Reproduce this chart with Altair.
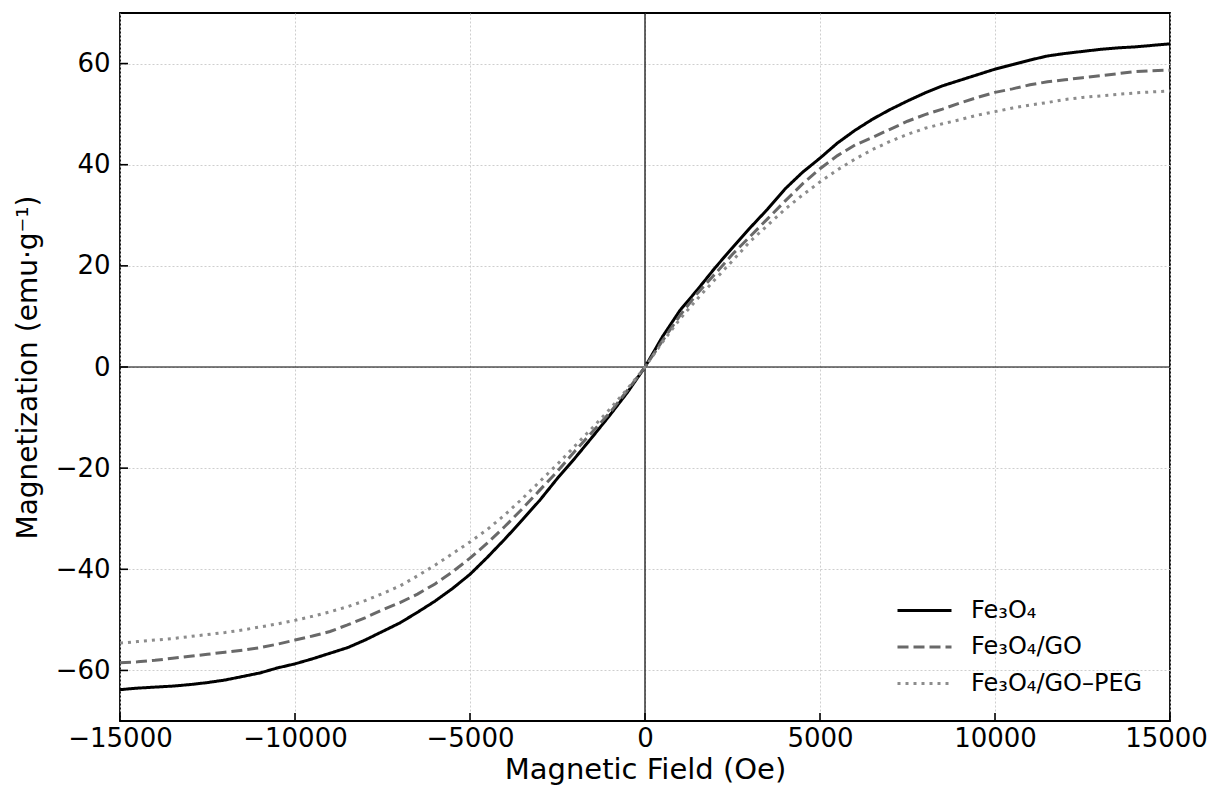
import altair as alt
import pandas as pd

field_oe = [-15000, -14500, -14000, -13500, -13000, -12500, -12000, -11500, -11000, -10500,
            -10000, -9500, -9000, -8500, -8000, -7500, -7000, -6500, -6000, -5500,
            -5000, -4500, -4000, -3500, -3000, -2500, -2000, -1500, -1000, -500,
            0, 500, 1000, 1500, 2000, 2500, 3000, 3500, 4000, 4500,
            5000, 5500, 6000, 6500, 7000, 7500, 8000, 8500, 9000, 9500,
            10000, 10500, 11000, 11500, 12000, 12500, 13000, 13500, 14000, 14500, 15000]

m_fe3o4 = [-63.8, -63.5, -63.3, -63.1, -62.8, -62.4, -61.9, -61.2, -60.5, -59.5,
           -58.7, -57.7, -56.6, -55.5, -54.0, -52.3, -50.6, -48.5, -46.3, -43.8,
           -41.0, -37.6, -34.0, -30.2, -26.3, -22.0, -18.0, -13.8, -9.5, -5.0,
           0.0, 6.0, 11.2, 15.3, 19.6, 23.6, 27.5, 31.2, 35.2, 38.5,
           41.3, 44.3, 46.8, 49.0, 50.9, 52.6, 54.2, 55.6, 56.7, 57.8,
           58.9, 59.8, 60.7, 61.5, 62.0, 62.4, 62.8, 63.1, 63.3, 63.6, 63.9]

m_fe3o4_go = [-58.5, -58.3, -58.0, -57.6, -57.2, -56.8, -56.4, -56.0, -55.5, -54.8,
              -54.0, -53.2, -52.3, -51.0, -49.6, -48.0, -46.6, -44.9, -42.9, -40.5,
              -37.8, -34.8, -31.5, -28.0, -24.3, -20.6, -16.6, -12.8, -9.0, -4.6,
              0.0, 5.2, 10.2, 14.6, 18.4, 22.3, 25.8, 29.3, 32.8, 36.2,
              39.2, 41.8, 43.9, 45.4, 47.0, 48.6, 49.9, 51.0, 52.2, 53.3,
              54.3, 55.0, 55.8, 56.4, 56.8, 57.2, 57.6, 58.0, 58.4, 58.6, 58.7]

m_fe3o4_go_peg = [-54.6, -54.3, -54.0, -53.7, -53.3, -52.9, -52.5, -52.0, -51.4, -50.8,
                  -50.1, -49.3, -48.4, -47.4, -46.2, -44.8, -43.3, -41.3, -39.2, -36.9,
                  -34.6, -32.1, -29.2, -26.0, -22.6, -19.2, -15.6, -12.0, -8.3, -4.3,
                  0.0, 4.9, 9.5, 13.5, 17.3, 21.0, 24.8, 28.0, 31.2, 34.0,
                  36.6, 39.0, 41.1, 43.0, 44.6, 46.0, 47.2, 48.1, 48.9, 49.8,
                  50.5, 51.2, 51.8, 52.3, 52.9, 53.3, 53.6, 53.9, 54.2, 54.4, 54.6]

series_names = ["Fe₃O₄", "Fe₃O₄/GO", "Fe₃O₄/GO–PEG"]
series_colors = ["#000000", "#696969", "#8c8c8c"]
series_dashes = [[1, 0], [11, 5], [3, 5]]

x_ticks = [-15000, -10000, -5000, 0, 5000, 10000, 15000]
y_ticks = [-60, -40, -20, 0, 20, 40, 60]

W, H = 1050, 708
FONT = "DejaVu Sans"

rows = []
for name, vals in zip(series_names, [m_fe3o4, m_fe3o4_go, m_fe3o4_go_peg]):
    for f, m in zip(field_oe, vals):
        rows.append({"field": f, "mag": m, "series": name, "order": series_names.index(name)})
df = pd.DataFrame(rows)

xscale = alt.Scale(domain=[-15000, 15000], nice=False, zero=False)
yscale = alt.Scale(domain=[-70, 70], nice=False, zero=False)


def make_legend():
    return alt.Legend(title=None, orient="none", legendX=785, legendY=578,
                      symbolType="M-1.5,0H1.5", symbolSize=1296, symbolStrokeWidth=3,
                      symbolFillColor="transparent",
                      labelFontSize=24, labelFont=FONT, labelColor="black", labelLimit=0,
                      rowPadding=4.5, labelOffset=27, padding=0)


lines = alt.Chart(df).mark_line(strokeWidth=3, strokeCap="butt").encode(
    x=alt.X("field:Q", scale=xscale,
            axis=alt.Axis(values=x_ticks, title="Magnetic Field (Oe)", format="d",
                          grid=True, gridDash=[2, 2], gridColor="#c8c8c8", gridWidth=0.9,
                          ticks=False, domain=False, labelPadding=4, labelFontSize=26,
                          titleFontSize=29, titlePadding=4, titleFontWeight="normal",
                          labelColor="black", titleColor="black", labelFont=FONT, titleFont=FONT,
                          labelFlush=False,
                          labelOffset={"condition": {"test": "datum.value == 15000", "value": -4},
                                       "value": 0})),
    y=alt.Y("mag:Q", scale=yscale,
            axis=alt.Axis(values=y_ticks, title="Magnetization (emu·g⁻¹)", format="d",
                          grid=True, gridDash=[2, 2], gridColor="#c8c8c8", gridWidth=0.9,
                          ticks=False, domain=False, labelPadding=10, labelFontSize=26,
                          titleFontSize=28, titlePadding=13, titleFontWeight="normal",
                          labelColor="black", titleColor="black", labelFont=FONT, titleFont=FONT)),
    color=alt.Color("series:N", scale=alt.Scale(domain=series_names, range=series_colors),
                    legend=make_legend()),
    strokeDash=alt.StrokeDash("series:N", scale=alt.Scale(domain=series_names, range=series_dashes),
                              legend=make_legend()),
    order=alt.Order("order:Q"),
    detail="series:N",
)

zero_x = alt.Chart(pd.DataFrame({"v": [0]})).mark_rule(color="black", strokeWidth=1.2).encode(
    x=alt.X("v:Q", scale=xscale))
zero_y = alt.Chart(pd.DataFrame({"v": [0]})).mark_rule(color="black", strokeWidth=1.2).encode(
    y=alt.Y("v:Q", scale=yscale))

xt = alt.Chart(pd.DataFrame({"v": x_ticks})).mark_rule(color="black", strokeWidth=1.6).encode(
    x=alt.X("v:Q", scale=xscale), y=alt.value(H - 8), y2=alt.value(H))
yt = alt.Chart(pd.DataFrame({"v": y_ticks})).mark_rule(color="black", strokeWidth=1.6).encode(
    y=alt.Y("v:Q", scale=yscale), x=alt.value(0), x2=alt.value(8))

chart = alt.layer(zero_x, zero_y, lines, xt, yt).properties(
    width=W, height=H, autosize="none",
    padding={"left": 112, "top": 5, "right": 38, "bottom": 64},
).configure(font=FONT).configure_view(stroke="black", strokeWidth=1.8)

chart.save("out.html", embed_options={"renderer": "svg", "actions": False})
